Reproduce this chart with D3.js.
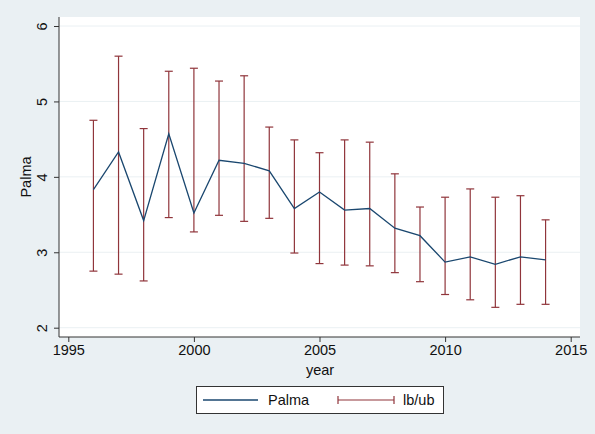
<!DOCTYPE html>
<html><head><meta charset="utf-8">
<script src="https://cdn.jsdelivr.net/npm/d3@7"></script>
<style>body{margin:0;background:#eaf0f3;}svg{display:block;}</style>
</head><body>
<svg id="c" width="595" height="434"></svg>
<script>
const years = [1996,1997,1998,1999,2000,2001,2002,2003,2004,2005,2006,2007,2008,2009,2010,2011,2012,2013,2014];
const palma = [3.83,4.33,3.42,4.57,3.52,4.22,4.18,4.08,3.58,3.80,3.56,3.58,3.32,3.22,2.87,2.94,2.84,2.94,2.90];
const lb = [2.75,2.71,2.62,3.46,3.27,3.49,3.41,3.45,2.99,2.85,2.83,2.82,2.73,2.61,2.44,2.37,2.27,2.31,2.31];
const ub = [4.75,5.60,4.64,5.40,5.44,5.27,5.34,4.66,4.49,4.32,4.49,4.46,4.04,3.60,3.73,3.84,3.73,3.75,3.43];
const xTicks = [1995,2000,2005,2010,2015];
const yTicks = [2,3,4,5,6];
const legendLabels = ["Palma","lb/ub"];

const navy = "#1a476f", maroon = "#90353b";
const svg = d3.select("#c");
const font = "Liberation Sans, Arial, sans-serif";
const fs = 14.5;
const L = 59, R = 580, T = 17, B = 337;
svg.append("rect").attr("x",0).attr("y",0).attr("width",595).attr("height",434).attr("fill","#eaf0f3");
svg.append("rect").attr("x",L).attr("y",T).attr("width",R-L).attr("height",B-T).attr("fill","#fff");

const x = d3.scaleLinear().domain([1995,2015]).range([68.3,570.7]);
const y = d3.scaleLinear().domain([2,6]).range([327.7,26]);

// gridlines
svg.append("g").selectAll("line").data(yTicks).join("line")
  .attr("x1",L).attr("x2",R).attr("y1",d=>y(d)).attr("y2",d=>y(d))
  .attr("stroke","#eaf0f3").attr("stroke-width",1);

// y axis
const ya = svg.append("g").attr("transform",`translate(${L},0)`)
  .call(d3.axisLeft(y).tickValues(yTicks).tickSize(5).tickPadding(4).tickFormat(d3.format("d")));
ya.select(".domain").attr("d",`M0,${T}V${B}`).attr("stroke","#333");
ya.selectAll(".tick line").attr("stroke","#333");
ya.selectAll(".tick text").attr("font-family",font).attr("font-size",fs).attr("fill","#111")
  .attr("x",null).attr("dy",null).attr("text-anchor","middle")
  .attr("transform","translate(-17,0) rotate(-90)").attr("dominant-baseline","central");

// x axis
const xa = svg.append("g").attr("transform",`translate(0,${B})`)
  .call(d3.axisBottom(x).tickValues(xTicks).tickSize(5).tickPadding(3).tickFormat(d3.format("d")));
xa.select(".domain").attr("d",`M${L},0H${R}`).attr("stroke","#333");
xa.selectAll(".tick line").attr("stroke","#333");
xa.selectAll(".tick text").attr("font-family",font).attr("font-size",fs).attr("fill","#111");

// axis titles
svg.append("text").attr("x",320).attr("y",375).attr("text-anchor","middle")
  .attr("font-family",font).attr("font-size",fs).attr("fill","#111").text("year");
svg.append("text").attr("transform","translate(31,177) rotate(-90)").attr("text-anchor","middle")
  .attr("font-family",font).attr("font-size",fs).attr("fill","#111").text("Palma");

// error bars
const cap = 4;
const eb = svg.append("g").attr("stroke",maroon).attr("stroke-width",1.2);
years.forEach((yr,i)=>{
  eb.append("line").attr("x1",x(yr)).attr("x2",x(yr)).attr("y1",y(lb[i])).attr("y2",y(ub[i]));
  eb.append("line").attr("x1",x(yr)-cap).attr("x2",x(yr)+cap).attr("y1",y(lb[i])).attr("y2",y(lb[i]));
  eb.append("line").attr("x1",x(yr)-cap).attr("x2",x(yr)+cap).attr("y1",y(ub[i])).attr("y2",y(ub[i]));
});

// line
svg.append("path").datum(years.map((yr,i)=>[yr,palma[i]]))
  .attr("fill","none").attr("stroke",navy).attr("stroke-width",1.3)
  .attr("d",d3.line().x(d=>x(d[0])).y(d=>y(d[1])));

// legend
const lg = svg.append("g");
lg.append("rect").attr("x",196.5).attr("y",386.5).attr("width",247).attr("height",27)
  .attr("fill","#fff").attr("stroke","#333").attr("stroke-width",1);
lg.append("line").attr("x1",203).attr("x2",258).attr("y1",400).attr("y2",400).attr("stroke",navy).attr("stroke-width",1.3);
lg.append("text").attr("x",268).attr("y",405).attr("font-family",font).attr("font-size",fs).attr("fill","#111").text(legendLabels[0]);
lg.append("line").attr("x1",338).attr("x2",394).attr("y1",400).attr("y2",400).attr("stroke",maroon).attr("stroke-width",1.2);
lg.append("line").attr("x1",338).attr("x2",338).attr("y1",396).attr("y2",404).attr("stroke",maroon).attr("stroke-width",1.2);
lg.append("line").attr("x1",394).attr("x2",394).attr("y1",396).attr("y2",404).attr("stroke",maroon).attr("stroke-width",1.2);
lg.append("text").attr("x",403).attr("y",405).attr("font-family",font).attr("font-size",fs).attr("fill","#111").text(legendLabels[1]);
</script>
</body></html>
